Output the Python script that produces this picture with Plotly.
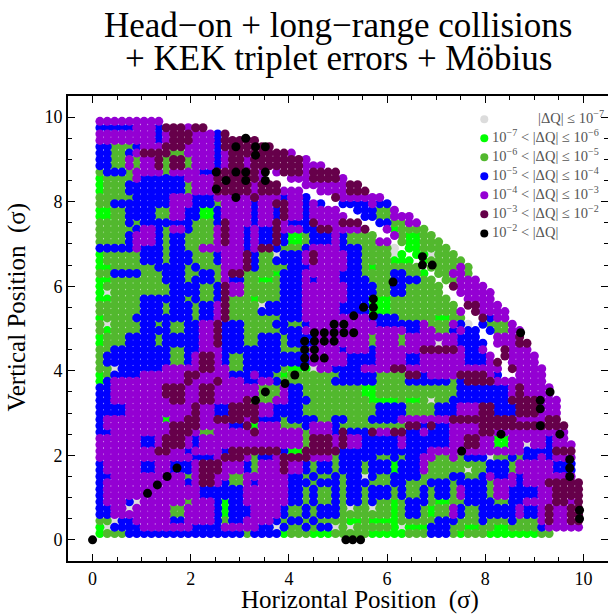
import math
import plotly.graph_objects as go

# Class of each region cell, top row first (y = 9.9, 9.7, ... 0.1), x = 0.1, 0.3, ... left to right
class_rows = [
"PPPPPPP",
"BBBBPPBMMPMM",
"PPPPPPBPMMPPBMMK",
"BBGGBPPMMPPPBMKMKK",
"BBGBPMMMGPPPBPMMKMMMP",
"BBGPGPMGMGPPBPMPMMMMMPP",
"GBBGPPPGPPPBKMKKMKPMMPMMM",
"LGGGPBBBBPPPMKMKMKPPPPMMMP",
"LGGBBBBBBGPPKMMMPMMPPPPPPPMM",
"GGGGBBBBPPBBPPKPMPPBPBPMMPPPP",
"GGBBBBBBPPBBGPPPBPMMPBPBPBBBPBB",
"LLGBBBGGPBBLBPPPBPBMPBPPPPBBBGPP",
"GGGBGBBBBBGGBMPPBPMPBBMPPMMMMBGGP",
"GGGGBPBGPBGGPMPBPBMPPBBMPPPMMPLGGG",
"GGGBPPBGBGGGPMPBPBMBLGBBPBGGGPPGLGG",
"BBBBPBBGBGGPPPPBPMBGGBPPPBBGGGWLLGGG",
"LGGGGBBGBBGGBPPMBGWBBPMPPPBGGGWLLKWGG",
"LLGGGGBBBGBGGPPMBGGGBBPPPPBGLGGGGKKGGPG",
"GGBBBGGBBGGBGPMGGGLBBPPPPBBGGGBBGLGGPPG",
"LLGGGGGBBGBBGPBGGLGBBPBPPBBBGGKBBGGGGPPG",
"LWGGGGGGBBBGBMPGGGGBBPPPPPBBBGBBGGGGMPPP",
"LLGGGBBBBGBGBMGGLGGBBPPPPPBBKLGGGGGGPMPPP",
"GGGGGBBGBBGBPMGGGWBBBPPPPBBKKLGGGGGGGPMPPP",
"LGGGBBBBBBGBPMGGGGGBBPPPPPKPKBBGGGGLGGPMBP",
"GWGGGBGBGBBPMBBGGGBBGBPPKKPPPBBBBPGGPBWBGGP",
"GLGGGBBBGBBPMBBGGGGBBPKKKKKPPPPPBPPGBPBWBGPK",
"LGGBBBGBBBBPMBBGGBBGBKKKKPPPGPPGPPPWPBBBPPPM",
"GGBBBBBBGBBPPBBBBBBGGKKPPBPPBPPPPMMMMPBPPMPPP",
"GBBBBBBBGBPMPBGBBBBBBKKKPPBBBPPPBPPPPPBBPMPPP",
"GGWBBBBPPPPMPPGBBBBGLKWPBBBPPPMMPPPPPPPPPPMPPP",
"LGBBBPPPPMMPPPBBPBGLKGGGGBBBBGGGMBPPPMMMPBMPPP",
"LBPPPPPPPMPPMPPBBPBKGGGGBBBBBGGGBBBBGBMMMPPPPPP",
"BBPPPPPMMPPMPPPPPKGPBGGGGGGLLGGGGGGGGBBBBBPMPPK",
"BBPPPPPPMPPMPPPMKGPPBBGGGGGGLLLGLGWGBBBBBBMMMKP",
"BBBPPPPPPPMPBBMMMPBBBGGGGGGGGBBBGGGBBPPMMBBMMKPP",
"BPPPPPPLPMMPMMMPMBBGBBBGBBGGBBBPPPPPMMMMMMMPPPMM",
"BPPPPPPPMMMPPPBMLPPGGBPPBGGGGGGGMBMBPPPMMMMMMKMM",
"BBPPPPPPMMPGPPPPMPPPPGPPBMBBMPMMBPBBPPPMMKPPPPPK",
"PPPPPBPMMPBPPPPPPPPPPGMMPMPBBBBPBBBBPPMPPLPPWPBPP",
"PPPPPPMMPBPPPBMMMMMBLMMMMBBBBBBBBBPPPKPPPPPPBBBMM",
"PPPPPPPPPPBBPMMPGBPMMMPPGBBBBGBGBPPGPGBBWGBGBPBPK",
"BPPPPBPPKBPMMPPBGPPMPBGBGBBGBBLBBPGGGGWGBBGPPPPBK",
"BBPPPPPKPGPMPPGPPPPPBGBGBGBWBGBBBGGGBBGBPBPBPPPPK",
"BPPPPPKPPBPMPBGPBPPPBBGBBGBBGGBBGGBBGBBBGPPBPPMMMM",
"BPPPPKPPPPPBBBBPPPPPBGBGBGBGBBGBGBGBGPBBGPBBBPPMMM",
"BPPBWPPPPGPPBLBPPPPPBGBGBGBGBGLGBBGLGGBBBGBBPPPMPM",
"BBPWPPPPGPPPBLBBPPPBGBGBBGWGWGLGBGLGPBGBBBBPBPMPMK",
"GGWBPPPPBPPPBGBPPPBGBGBGGGLGLLLGGGGBBGGBGGBGGPMPMK",
"LWBBBPPPPPBBBPPPPBWBGBGBWGWGGGLWLLBBGGLGGLGGGBPPP",
"LGGBBBBBBBBBBBBGBBBLGGLLGGGGLLLLGGBBGLGGLLLLLG",
]
cell_x0, cell_y0, cell_step = 0.12, 9.9, 0.2

# The scan lattice of starting amplitudes (in sigma)
scan_x = [0.15 + 0.15 * k for k in range(66)]
scan_y = [0.15 + 0.15 * k for k in range(66)]

# Amplitude ring with no dots (white arc in the upper right): radius band and angle band
gap_radius = [9.26, 9.44]
gap_angle = [24.0, 68.0]

# Black points lying on the y = 0 line
extra_black_x = [0.0, 5.16, 5.3, 5.46]
extra_black_y = [0.0, 0.0, 0.0, 0.0]

class_codes = ["W", "L", "G", "B", "P", "M", "K"]
class_colors = ["#dcdcdc", "#00ff00", "#52b82e", "#0000ff", "#9400d3", "#66004a", "#000000"]
class_labels = [
    "|ΔQ| ≤ 10<sup>−7</sup>",
    "10<sup>−7</sup> &lt; |ΔQ| ≤ 10<sup>−6</sup>",
    "10<sup>−6</sup> &lt; |ΔQ| ≤ 10<sup>−5</sup>",
    "10<sup>−5</sup> &lt; |ΔQ| ≤ 10<sup>−4</sup>",
    "10<sup>−4</sup> &lt; |ΔQ| ≤ 10<sup>−3</sup>",
    "10<sup>−3</sup> &lt; |ΔQ| ≤ 10<sup>−2</sup>",
    "10<sup>−2</sup> &lt; |ΔQ|",
]
key_x = [7.98] * 7
key_y = [9.95, 9.5, 9.05, 8.6, 8.15, 7.7, 7.25]

title_lines = ["Head−on + long−range collisions", "+ KEK triplet errors + Möbius"]
x_title = "Horizontal Position  (σ)"
y_title = "Vertical Position  (σ)"


def neighbour_class(row, i):
    for d in (1, -1, 2, -2, 3, -3):
        k = i + d
        if 0 <= k < len(row) and row[k] not in "KW":
            return row[k]
    return "P"


points = {c: ([], []) for c in class_codes}
for y in scan_y:
    j = round((cell_y0 - y) / cell_step)
    if not 0 <= j < len(class_rows):
        continue
    row = class_rows[j]
    cy = cell_y0 - cell_step * j
    for x in scan_x:
        r = math.hypot(x, y)
        if r > 10.01:
            continue
        if gap_radius[0] < r < gap_radius[1] and gap_angle[0] < math.degrees(math.atan2(y, x)) < gap_angle[1]:
            continue
        i = round((x - cell_x0) / cell_step)
        if i > len(row):
            continue
        i = min(i, len(row) - 1)
        c = row[i]
        cx = cell_x0 + cell_step * i
        if c == "K" or (c == "W" and (abs(x - cx) > 0.075 or abs(y - cy) > 0.075)):
            c = neighbour_class(row, i)
        points[c][0].append(x)
        points[c][1].append(y)
for j, row in enumerate(class_rows):
    for i, c in enumerate(row):
        if c == "K":
            points["K"][0].append(cell_x0 + cell_step * i)
            points["K"][1].append(cell_y0 - cell_step * j)
points["K"][0].extend(extra_black_x)
points["K"][1].extend(extra_black_y)

fig = go.Figure()
for code, color in zip(class_codes, class_colors):
    fig.add_trace(go.Scatter(x=points[code][0], y=points[code][1], mode="markers", name=code, showlegend=False,
                             marker=dict(color=color, size=9, line=dict(width=0))))
for n, color in enumerate(class_colors):
    fig.add_trace(go.Scatter(x=[key_x[n]], y=[key_y[n]], mode="markers", showlegend=False,
                             marker=dict(color=color, size=8, line=dict(width=0))))

axis = dict(range=[-0.5, 10.5], tick0=0, dtick=2, ticks="inside", ticklen=7, tickwidth=1,
            tickcolor="black", showgrid=False, zeroline=False, showline=True, linecolor="black",
            linewidth=2, mirror="ticks",
            tickfont=dict(family="Liberation Serif", size=18, color="black"),
            minor=dict(dtick=0.5, ticks="inside", ticklen=4, tickwidth=1, tickcolor="black", showgrid=False))

ann = []
ann.append(dict(text=title_lines[0], xref="paper", yref="paper", x=0.5, y=1, yshift=71, showarrow=False,
                xanchor="center", yanchor="middle",
                font=dict(family="Liberation Serif", size=35, color="black")))
ann.append(dict(text=title_lines[1], xref="paper", yref="paper", x=0.5, y=1, yshift=38, showarrow=False,
                xanchor="center", yanchor="middle",
                font=dict(family="Liberation Serif", size=35, color="black")))
ann.append(dict(text=x_title, xref="paper", yref="paper", x=0.54, y=0, yshift=-39, showarrow=False,
                xanchor="center", yanchor="middle",
                font=dict(family="Liberation Serif", size=25, color="black")))
ann.append(dict(text=y_title, xref="paper", yref="paper", x=0, xshift=-51, y=0.545, showarrow=False,
                textangle=-90, xanchor="center", yanchor="middle",
                font=dict(family="Liberation Serif", size=25, color="black")))
for n, label in enumerate(class_labels):
    ann.append(dict(text=label, xref="x", yref="y", x=key_x[n], xshift=6 if n else 122, y=key_y[n], yshift=2, showarrow=False,
                    xanchor="left" if n else "right", yanchor="middle", align="left",
                    font=dict(family="Liberation Serif", size=14.5, color="#555555")))

fig.update_layout(width=612, height=616, autosize=False, plot_bgcolor="white", paper_bgcolor="white",
                  margin=dict(l=68, r=2, t=96, b=55), xaxis=axis, yaxis=axis, annotations=ann)
fig.write_html("out.html", config={"displayModeBar": False},
               post_script="document.body.style.margin='0';document.documentElement.style.overflow='hidden';")
